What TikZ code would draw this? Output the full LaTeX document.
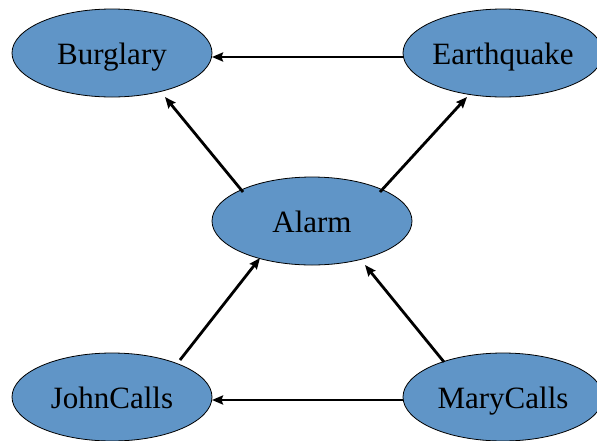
\documentclass[tikz,border=0pt]{standalone}
\usepackage{fontspec}
\setmainfont{Liberation Serif}
\usetikzlibrary{shapes.geometric,arrows.meta}
\definecolor{nodefill}{RGB}{96,149,199}
\tikzset{
  bnode/.style={ellipse, draw=black, line width=0.8pt, fill=nodefill,
    minimum width=200pt, minimum height=88pt, inner sep=0pt,
    text height=23pt, text depth=0pt,
    font=\fontsize{31}{36}\selectfont},
  arr/.style={line width=2.8pt, -{Stealth[length=11pt,width=9pt,inset=1.5pt]}}
}
\begin{document}
\begin{tikzpicture}[x=1pt,y=-1pt]
  \useasboundingbox (0,0) rectangle (597,440);
  \node[bnode] (burg)  at (112,53)  {Burglary};
  \node[bnode] (quake) at (503,53)  {Earthquake};
  \node[bnode] (alarm) at (312,221) {Alarm};
  \node[bnode] (john)  at (112,397) {JohnCalls};
  \node[bnode] (mary)  at (503,397) {MaryCalls};

  \draw[arr] ([shift={(-100,4)}]quake.center) -- ([shift={(100,4)}]burg.center);
  \draw[arr] ([shift={(-100,3)}]mary.center) -- ([shift={(100,3)}]john.center);
  \draw[arr] ([shift={(-69,-29)}]alarm.center) -- ([shift={(53,44)}]burg.center);
  \draw[arr] ([shift={(68,-29)}]alarm.center) -- ([shift={(-36,44)}]quake.center);
  \draw[arr] ([shift={(68,-37)}]john.center) -- ([shift={(-52,37)}]alarm.center);
  \draw[arr] ([shift={(-59,-35)}]mary.center) -- ([shift={(53,44)}]alarm.center);
\end{tikzpicture}
\end{document}
